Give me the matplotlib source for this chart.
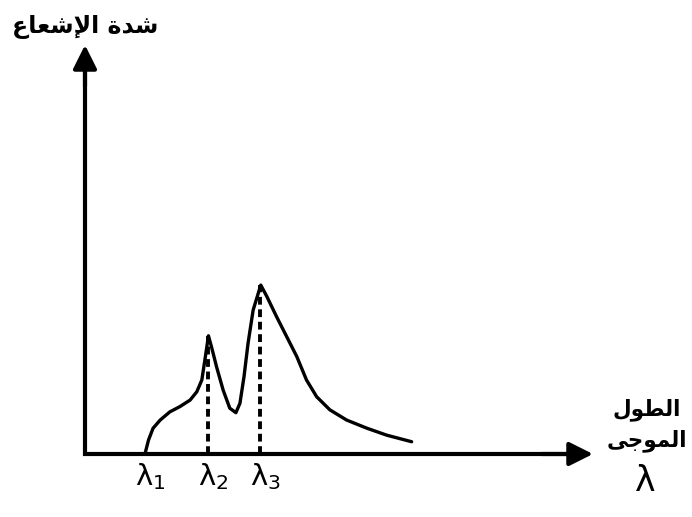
import matplotlib.pyplot as plt

# X-ray spectrum sketch (arbitrary units): wavelength vs intensity
wavelength = [11.8, 12.5, 13.4, 14.8, 16.7, 18.7, 20.7, 22.0, 23.0, 23.6, 24.3,
              24.9, 25.9, 27.2, 28.5, 29.7, 30.5, 31.3, 32.1, 33.1, 34.6,
              35.8, 37.7, 39.7, 41.7, 43.6, 45.6, 48.2, 51.5, 55.5, 59.4, 64.3]
intensity = [0.0, 3.4, 6.3, 8.3, 10.3, 11.6, 13.2, 15.2, 18.1, 23.0, 28.9,
             26.2, 21.3, 15.6, 11.2, 10.1, 12.4, 18.9, 27.1, 35.2, 41.3,
             38.5, 33.6, 28.7, 23.8, 18.1, 14.0, 10.8, 8.3, 6.3, 4.6, 3.0]

# characteristic lines
line_pos = [24.2, 34.5]
line_peak = [28.9, 41.3]
lambda_pos = [11.8, 24.2, 34.5]
lambda_labels = [r'$\mathregular{\lambda_1}$', r'$\mathregular{\lambda_2}$',
                 r'$\mathregular{\lambda_3}$']

# Arabic labels (presentation forms, visual order since matplotlib has no shaping)
y_label = '\uFEC9\uFE8E\uFECC\uFEB7\uFEF9\uFE8D \uFE93\uFEAA\uFEB7'   # شدة الإشعاع
x_label_1 = '\uFEDD\uFEEE\uFEC4\uFEDF\uFE8D'                          # الطول
x_label_2 = '\uFEF0\uFE9F\uFEEE\uFEE4\uFEDF\uFE8D'                    # الموجى

fig = plt.figure(figsize=(6.92, 5.17), dpi=100)
fig.patch.set_facecolor('white')
ax = fig.add_axes([85 / 692, 63 / 517, 508 / 692, 409 / 517])
ax.set_xlim(0, 100)
ax.set_ylim(0, 100)
ax.axis('off')

# axes: joined corner plus arrow heads
ax.plot([0, 0, 95], [95, 0, 0], color='black', lw=3, solid_joinstyle='miter',
        solid_capstyle='butt', clip_on=False)
arrow = dict(arrowstyle='-|>,head_length=0.8,head_width=0.4', lw=3,
             color='black', mutation_scale=18, shrinkA=0, shrinkB=0)
ax.annotate('', xy=(100, 0), xytext=(90, 0), arrowprops=arrow, annotation_clip=False)
ax.annotate('', xy=(0, 100), xytext=(0, 90), arrowprops=arrow, annotation_clip=False)

# spectrum
ax.plot(wavelength, intensity, color='black', lw=2.4, solid_capstyle='round',
        solid_joinstyle='round', clip_on=False)

# dashed lines under peaks
for xp, yp in zip(line_pos, line_peak):
    ax.plot([xp, xp], [0, yp], color='black', lw=2.8, linestyle=(0, (2.0, 1.2)))

# lambda labels
for xp, lab in zip(lambda_pos, lambda_labels):
    ax.text(xp + 1.0, -1.8, lab, ha='center', va='top', fontsize=21, color='black')

fig.text(85 / 692, 1 - 27 / 517, y_label, ha='center', va='center',
         fontsize=17, fontweight='bold', family='DejaVu Sans')
fig.text(647 / 692, 1 - 410 / 517, x_label_1, ha='center', va='center',
         fontsize=15.5, fontweight='bold', family='DejaVu Sans')
fig.text(647 / 692, 1 - 441 / 517, x_label_2, ha='center', va='center',
         fontsize=15.5, fontweight='bold', family='DejaVu Sans')
fig.text(645 / 692, 1 - 481 / 517, r'$\mathregular{\lambda}$', ha='center',
         va='center', fontsize=25, color='black')

fig.savefig('out.png', dpi=100, facecolor='white')
